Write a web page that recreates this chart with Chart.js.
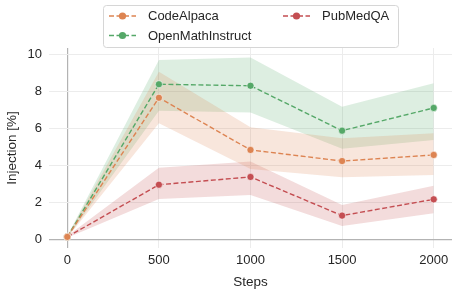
<!DOCTYPE html>
<html>
<head>
<meta charset="utf-8">
<script src="https://cdn.jsdelivr.net/npm/chart.js@4.4.1/dist/chart.umd.min.js"></script>
<style>
  body { margin: 0; background: #fff; }
</style>
</head>
<body>
<canvas id="chart" width="457" height="295"></canvas>
<script>
// training steps (x) and tick values
const steps = [0, 500, 1000, 1500, 2000];
const xTicks = [0, 500, 1000, 1500, 2000];
const yTicks = [0, 2, 4, 6, 8, 10];

// injection rate [%] per dataset: mean and band (low / high)
const codeAlpaca = [0.13, 7.65, 4.83, 4.23, 4.56];
const codeAlpacaLow = [0.08, 6.27, 3.8, 3.35, 3.48];
const codeAlpacaHigh = [0.18, 9.05, 6.05, 5.46, 5.73];

const openMath = [0.13, 8.38, 8.30, 5.87, 7.10];
const openMathLow = [0.08, 6.95, 6.85, 4.9, 5.37];
const openMathHigh = [0.18, 9.69, 9.83, 7.17, 8.43];

const pubMed = [0.13, 2.95, 3.37, 1.28, 2.16];
const pubMedLow = [0.08, 2.18, 2.4, 0.72, 1.41];
const pubMedHigh = [0.18, 3.87, 4.2, 1.85, 2.9];

const series = [
    { label: 'CodeAlpaca', color: '#dd8452', band: 'rgba(221,132,82,0.2)', mean: codeAlpaca, low: codeAlpacaLow, high: codeAlpacaHigh },
    { label: 'OpenMathInstruct', color: '#55a868', band: 'rgba(85,168,104,0.2)', mean: openMath, low: openMathLow, high: openMathHigh },
    { label: 'PubMedQA', color: '#c44e52', band: 'rgba(196,78,82,0.2)', mean: pubMed, low: pubMedLow, high: pubMedHigh }
];

const font = "'Liberation Sans', Arial, sans-serif";
const textColor = '#262626';

function pts(values) {
    return values.map((v, i) => ({ x: steps[i], y: v }));
}

let datasets = [];
series.forEach(s => {
    datasets.push({
        label: s.label + ' low',
        data: pts(s.low),
        borderWidth: 0,
        borderColor: 'transparent',
        pointRadius: 0,
        fill: false,
        order: 2
    });
    datasets.push({
        label: s.label + ' high',
        data: pts(s.high),
        borderWidth: 0,
        borderColor: 'transparent',
        backgroundColor: s.band,
        pointRadius: 0,
        fill: '-1',
        order: 2
    });
    datasets.push({
        label: s.label,
        data: pts(s.mean),
        borderColor: s.color,
        borderWidth: 1.4,
        borderDash: [5, 2.5],
        pointRadius: 3.6,
        pointBackgroundColor: s.color,
        pointBorderColor: '#ffffff',
        pointBorderWidth: 0.6,
        fill: false,
        order: 1
    });
});

// legend drawn by hand: two columns inside a rounded box
const boxLegend = {
    id: 'boxLegend',
    afterDraw(chart) {
        const ctx = chart.ctx;
        ctx.save();
        let x = 103.5, y = 5.5, w = 295, h = 42, r = 3;
        ctx.beginPath();
        ctx.moveTo(x + r, y);
        ctx.arcTo(x + w, y, x + w, y + h, r);
        ctx.arcTo(x + w, y + h, x, y + h, r);
        ctx.arcTo(x, y + h, x, y, r);
        ctx.arcTo(x, y, x + w, y, r);
        ctx.closePath();
        ctx.fillStyle = '#ffffff';
        ctx.fill();
        ctx.strokeStyle = '#d6d6d6';
        ctx.lineWidth = 1;
        ctx.stroke();

        const slots = [
            { x: 109, y: 16 },
            { x: 109, y: 35.5 },
            { x: 283, y: 16 }
        ];
        series.forEach((s, i) => {
            const p = slots[i];
            ctx.strokeStyle = s.color;
            ctx.lineWidth = 1.4;
            ctx.setLineDash([5, 2.5]);
            ctx.beginPath();
            ctx.moveTo(p.x, p.y);
            ctx.lineTo(p.x + 27, p.y);
            ctx.stroke();
            ctx.setLineDash([]);
            ctx.beginPath();
            ctx.arc(p.x + 13.5, p.y, 3.6, 0, Math.PI * 2);
            ctx.fillStyle = s.color;
            ctx.fill();
            ctx.fillStyle = textColor;
            ctx.font = '13px ' + font;
            ctx.textBaseline = 'middle';
            ctx.textAlign = 'left';
            ctx.fillText(s.label, p.x + 39, p.y + 0.5);
        });
        ctx.restore();
    }
};

const config = {
    type: 'line',
    data: { datasets: datasets },
    options: {
        responsive: false,
        animation: false,
        devicePixelRatio: 1,
        events: [],
        layout: { padding: { top: 48, right: 5, left: 0, bottom: 0 } },
        elements: { line: { tension: 0 } },
        plugins: {
            legend: { display: false },
            tooltip: { enabled: false }
        },
        scales: {
            x: {
                type: 'linear',
                min: -100,
                max: 2100,
                afterBuildTicks: scale => { scale.ticks = xTicks.map(v => ({ value: v })); },
                afterFit: scale => { scale.height = 47; },
                border: { display: false },
                grid: {
                    drawTicks: false,
                    color: c => c.tick && c.tick.value === 0 ? '#b3b3b3' : '#ececec',
                    lineWidth: c => c.tick && c.tick.value === 0 ? 1.2 : 1
                },
                ticks: {
                    padding: 5,
                    color: textColor,
                    font: { family: font, size: 13 },
                    callback: v => String(v)
                },
                title: {
                    display: true,
                    text: 'Steps',
                    color: textColor,
                    font: { family: font, size: 13.5 },
                    padding: { top: 0, bottom: 5 }
                }
            },
            y: {
                min: -0.47,
                max: 10.34,
                afterBuildTicks: scale => { scale.ticks = yTicks.map(v => ({ value: v })); },
                afterFit: scale => { scale.width = 49; },
                border: { display: false },
                grid: {
                    drawTicks: false,
                    color: c => c.tick && c.tick.value === 0 ? '#b3b3b3' : '#ececec',
                    lineWidth: c => c.tick && c.tick.value === 0 ? 1.2 : 1
                },
                ticks: {
                    padding: 7,
                    color: textColor,
                    font: { family: font, size: 13 },
                    callback: v => String(v)
                },
                title: {
                    display: true,
                    text: 'Injection [%]',
                    color: textColor,
                    font: { family: font, size: 13.5 },
                    padding: { top: 4, bottom: 0 }
                }
            }
        }
    },
    plugins: [boxLegend]
};

new Chart(document.getElementById('chart'), config);
</script>
</body>
</html>
